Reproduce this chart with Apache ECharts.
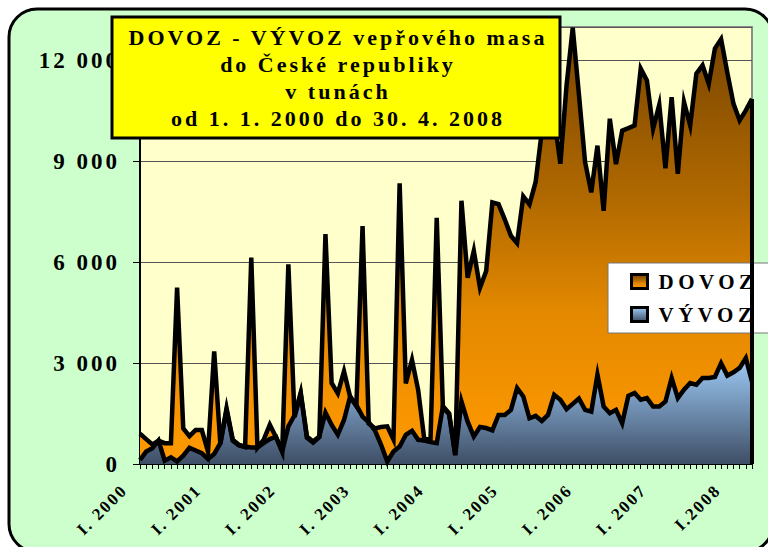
<!DOCTYPE html>
<html>
<head>
<meta charset="utf-8">
<title>DOVOZ - VÝVOZ vepřového masa</title>
<script src="https://cdn.jsdelivr.net/npm/echarts@6/dist/echarts.min.js"></script>
<style>
  html, body { margin: 0; padding: 0; background: #fff; }
  #chart { width: 768px; height: 547px; }
</style>
</head>
<body>
<div id="chart"></div>
<script>
// Mesice a roky (osa X)
var mesice = ['I', 'II', 'III', 'IV', 'V', 'VI', 'VII', 'VIII', 'IX', 'X', 'XI', 'XII'];
var roky = [2000, 2001, 2002, 2003, 2004, 2005, 2006, 2007, 2008];
var popiskyRoku = ['I. 2000', 'I. 2001', 'I. 2002', 'I. 2003', 'I. 2004', 'I. 2005', 'I. 2006', 'I. 2007', 'I.2008'];

// Osa Y
var popiskyY = ['0', '3 000', '6 000', '9 000', '12 000'];

// Nadpis
var nadpis = ['DOVOZ - VÝVOZ vepřového masa', 'do České republiky', 'v tunách', 'od 1. 1. 2000 do 30. 4. 2008'];

// Dovoz v tunach, I. 2000 - IV. 2008
var dovoz = [900, 740, 580, 690, 620, 620, 5250, 1060, 830, 1010,
  1010, 370, 3350, 600, 1600, 690, 550, 500, 6140, 490,
  720, 1170, 800, 370, 5940, 1400, 2080, 780, 640, 800,
  6840, 2410, 2100, 2760, 1990, 1720, 7080, 1200, 1060, 1100,
  1120, 730, 8350, 2400, 3100, 2200, 720, 750, 7320, 1680,
  1480, 260, 7830, 5540, 6340, 5240, 5740, 7780, 7730, 7280,
  6790, 6570, 7960, 7720, 8390, 9900, 10600, 10300, 8930, 11260,
  12980, 11000, 8980, 8080, 9470, 7530, 10270, 8920, 9920, 9990,
  10070, 11760, 11410, 9970, 10690, 8800, 10910, 8630, 10770, 10070,
  11610, 11860, 11310, 12360, 12640, 11650, 10720, 10220, 10520, 10860];

// Vyvoz v tunach
var vyvoz = [120, 370, 470, 700, 100, 200, 80, 250, 480, 400,
  320, 150, 300, 620, 1660, 720, 570, 520, 490, 490,
  620, 740, 810, 370, 1120, 1450, 2130, 820, 670, 820,
  1530, 1160, 870, 1310, 2010, 1760, 1410, 1240, 1000, 570,
  70, 370, 520, 870, 990, 720, 700, 650, 620, 1720,
  1510, 270, 1860, 1260, 820, 1100, 1070, 1000, 1460, 1460,
  1610, 2260, 2010, 1360, 1430, 1280, 1460, 2060, 1910, 1630,
  1790, 1950, 1610, 1560, 2660, 1710, 1510, 1610, 1210, 2030,
  2110, 1910, 1960, 1710, 1710, 1860, 2560, 1960, 2210, 2410,
  2360, 2560, 2560, 2590, 3000, 2630, 2730, 2860, 3150, 2450];

var kategorie = [];
roky.forEach(function (rok) {
  mesice.forEach(function (m) {
    if (kategorie.length < dovoz.length) kategorie.push(m + '. ' + rok);
  });
});

var pismo = '"Liberation Serif", "Times New Roman", serif';

function prechodDovoz() {
  return new echarts.graphic.LinearGradient(0, 0, 0, 1, [
    { offset: 0, color: '#774400' },
    { offset: 0.4, color: '#B26A00' },
    { offset: 0.65, color: '#E38800' },
    { offset: 0.85, color: '#F59300' },
    { offset: 1, color: '#FF9900' }
  ]);
}
function prechodVyvoz() {
  return new echarts.graphic.LinearGradient(0, 0, 0, 1, [
    { offset: 0, color: '#9ECBF7' },
    { offset: 1, color: '#3E4E66' }
  ]);
}

var myChart = echarts.init(document.getElementById('chart'), null, { renderer: 'svg' });

var option = {
  animation: false,
  backgroundColor: '#fff',
  grid: {
    left: 140, right: 16, top: 27, bottom: 83,
    show: true,
    backgroundColor: '#FFFFCC',
    borderColor: '#8c8c8c',
    borderWidth: 2
  },
  legend: {
    orient: 'vertical',
    left: 608,
    top: 263,
    padding: [8, 40, 8, 22],
    backgroundColor: '#fff',
    borderColor: '#777',
    borderWidth: 1,
    itemWidth: 16,
    itemHeight: 14,
    itemGap: 12,
    icon: 'rect',
    itemStyle: { borderColor: '#000', borderWidth: 3 },
    textStyle: { fontFamily: pismo, fontWeight: 'bold', fontSize: 21, color: '#000', padding: [0, 0, 0, 6] },
    data: [
      { name: 'DOVOZ', itemStyle: { color: prechodDovoz() } },
      { name: 'VÝVOZ', itemStyle: { color: prechodVyvoz() } }
    ]
  },
  xAxis: {
    type: 'category',
    boundaryGap: false,
    data: kategorie,
    axisLine: { lineStyle: { color: '#000', width: 2 } },
    axisTick: { interval: 0, length: 5, lineStyle: { color: '#000', width: 1 } },
    axisLabel: {
      interval: 11,
      rotate: 45,
      margin: 8,
      padding: [0, 22, 0, 0],
      fontFamily: pismo,
      fontWeight: 'bold',
      fontSize: 17,
      color: '#000',
      formatter: function (value, index) {
        return popiskyRoku[Math.floor(index / 12)];
      }
    },
    splitLine: { show: false }
  },
  yAxis: {
    type: 'value',
    min: 0,
    max: 13000,
    interval: 3000,
    axisLine: { show: true, lineStyle: { color: '#000', width: 2 } },
    axisTick: { show: true, length: 7, lineStyle: { color: '#000' } },
    axisLabel: {
      margin: 20,
      showMaxLabel: false,
      fontFamily: pismo,
      fontWeight: 'bold',
      fontSize: 23,
      color: '#000',
      formatter: function (value) {
        return popiskyY[value / 3000] || '';
      }
    },
    splitLine: { lineStyle: { color: '#555', width: 1 } }
  },
  series: [
    {
      name: 'DOVOZ',
      type: 'line',
      data: dovoz,
      symbol: 'none',
      clip: false,
      lineStyle: { color: '#000', width: 4.5, join: 'miter', miterLimit: 6 },
      areaStyle: { color: prechodDovoz(), opacity: 1 }
    },
    {
      name: 'VÝVOZ',
      type: 'line',
      data: vyvoz,
      symbol: 'none',
      clip: false,
      lineStyle: { color: '#000', width: 4.5, join: 'miter', miterLimit: 6 },
      areaStyle: { color: prechodVyvoz(), opacity: 1 },
      // prava hrana plochy
      markLine: {
        silent: true,
        symbol: 'none',
        label: { show: false },
        lineStyle: { color: '#000', width: 4, type: 'solid' },
        data: [[
          { coord: [kategorie[kategorie.length - 1], 0] },
          { coord: [kategorie[kategorie.length - 1], dovoz[dovoz.length - 1]] }
        ]]
      }
    }
  ],
  graphic: [
    {
      type: 'rect',
      z: -10,
      silent: true,
      shape: { x: 9, y: 9, width: 764, height: 543, r: 28 },
      style: { fill: '#CCFFCC', stroke: '#000', lineWidth: 3 }
    },
    {
      type: 'group',
      z: 100,
      children: [
        {
          type: 'rect',
          z: 100,
          shape: { x: 112, y: 17, width: 448, height: 121 },
          style: { fill: '#FFFF00', stroke: '#000', lineWidth: 3 }
        },
        {
          type: 'text',
          z: 101,
          x: 338,
          y: 24,
          style: {
            text: nadpis.join('\n'),
            font: 'bold 22px ' + pismo,
            textAlign: 'center',
            textVerticalAlign: 'top',
            lineHeight: 27,
            fill: '#000'
          }
        }
      ]
    }
  ]
};
myChart.setOption(option);

// Roztazeni pisma jako v puvodnim grafu
var texty = document.querySelectorAll('#chart text');
for (var i = 0; i < texty.length; i++) {
  var t = texty[i].textContent;
  if (t === 'DOVOZ' || t === 'VÝVOZ') {
    texty[i].style.letterSpacing = '4.5px';
  } else if (nadpis.indexOf(t) >= 0) {
    texty[i].style.letterSpacing = '3px';
  } else if (t.indexOf('I.') === 0) {
    texty[i].style.letterSpacing = '2px';
  } else {
    texty[i].style.letterSpacing = '3px';
  }
}
</script>
</body>
</html>
